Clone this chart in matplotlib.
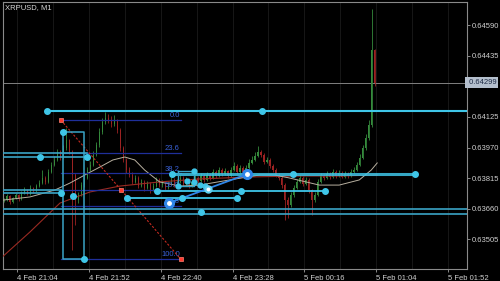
import matplotlib
matplotlib.use("Agg")
import matplotlib.pyplot as plt
import numpy as np

plt.rcParams['font.family'] = ['Liberation Sans', 'DejaVu Sans']

# time axis: minutes after 4 Feb 21:04, candles every 2 minutes
t0 = -9
step = 2
first_open = 700   # points above 0.63000
# closes / highs / lows in points (1e-5) above 0.63000
closes = [704, 725, 694, 715, 730, 710, 740, 755, 735, 765, 750, 775, 790, 816, 796, 846, 882, 907, 947, 917,
          968, 1008, 947, 831, 704, 730, 780, 816, 856, 882, 932, 983, 1049, 1099, 1119, 1109, 1089, 1104, 1059, 968,
          907, 856, 831, 796, 816, 775, 796, 765, 785, 755, 775, 806, 780, 790, 765, 785, 806, 775, 796, 816,
          785, 806, 775, 796, 816, 801, 826, 806, 831, 816, 846, 826, 856, 836, 851, 826, 856, 877, 846, 866,
          846, 866, 892, 907, 927, 947, 932, 897, 907, 877, 856, 831, 816, 780, 704, 679, 730, 765, 796, 816,
          785, 806, 755, 704, 730, 796, 826, 816, 836, 821, 846, 826, 841, 821, 836, 826, 846, 856, 882, 917,
          968, 1018, 1084, 1463, 1299]
highs = [716, 735, 730, 722, 742, 736, 752, 770, 762, 778, 772, 788, 806, 856, 825, 860, 898, 925, 962, 955,
         985, 1069, 1015, 955, 840, 745, 795, 830, 870, 900, 950, 1000, 1070, 1120, 1150, 1140, 1130, 1135, 1115, 1070,
         980, 915, 870, 845, 830, 825, 810, 805, 800, 795, 790, 820, 815, 805, 798, 800, 822, 815, 810, 832,
         825, 820, 815, 810, 830, 825, 842, 835, 848, 840, 862, 855, 872, 865, 866, 858, 874, 895, 885, 880,
         875, 882, 910, 925, 945, 978, 960, 940, 922, 915, 885, 865, 840, 825, 790, 720, 745, 780, 812, 832,
         825, 820, 815, 762, 745, 810, 842, 835, 850, 845, 860, 855, 856, 850, 850, 845, 860, 870, 898, 935,
         985, 1040, 1110, 1671, 1470]
lows = [692, 698, 684, 688, 710, 700, 705, 735, 728, 730, 742, 745, 770, 785, 788, 790, 840, 875, 900, 905,
        910, 960, 935, 452, 578, 690, 725, 770, 810, 850, 875, 925, 975, 1040, 1090, 1095, 1075, 1080, 1045, 950,
        895, 840, 820, 785, 790, 765, 770, 750, 760, 740, 748, 770, 770, 772, 755, 758, 780, 768, 770, 790,
        776, 780, 765, 770, 790, 792, 796, 798, 800, 808, 810, 818, 820, 828, 830, 818, 820, 850, 838, 840,
        838, 840, 860, 885, 900, 920, 920, 885, 890, 865, 845, 820, 805, 765, 603, 613, 670, 722, 760, 790,
        775, 778, 740, 629, 695, 725, 790, 808, 810, 812, 815, 818, 820, 814, 815, 818, 820, 840, 850, 875,
        910, 960, 1010, 1075, 1281]

# moving averages (time, points)
fast_t = [-9.3, 8.7, 25.3, 35.3, 45.3, 55.3, 64, 72, 78.7, 85.3, 95.3, 108.7, 122, 142, 162, 172, 182, 202, 215.3, 228.7, 236.7, 240.7]
fast_v = [704, 720, 755, 790, 831, 871, 907, 922, 907, 856, 796, 775, 780, 806, 831, 831, 816, 780, 780, 806, 856, 892]
slow_t = [-9.3, 8.7, 28.7, 48.7, 68.7, 95.3, 122, 155.3, 188.7, 215.3, 240.7]
slow_v = [420, 543, 689, 745, 775, 796, 811, 821, 826, 826, 831]

current_price = 0.64299
y_ticks = [0.63505, 0.63660, 0.63815, 0.63970, 0.64125, 0.64280, 0.64435, 0.64590]
x_ticks = [0, 48, 96, 144, 192, 240, 288]
x_labels = ['4 Feb 21:04', '4 Feb 21:52', '4 Feb 22:40', '4 Feb 23:28', '5 Feb 00:16', '5 Feb 01:04', '5 Feb 01:52']

# fibonacci retracement
fib_a = (29.3, 0.64109)
fib_b = (109.3, 0.63406)
fib_levels = [0.0, 23.6, 38.2, 50.0, 61.8, 100.0]

# drawn lines (prices, times)
ray_price = 0.64155
hlines_left = [0.63940, 0.63924]
hlines_left2 = [0.63755, 0.63740]
hlines_full = [0.63659, 0.63636]
segments = [(73.3, 146.7, 0.63715), (93.3, 206.0, 0.63750)]
main_seg = (103.3, 266.0, 0.63836)
rect = (30.5, 44.7, 0.63406, 0.64050)
trend = ((101.3, 0.63689), (154.0, 0.63836))

XMIN, XMAX = -9.36, 300.7
CYAN = '#3fc6e8'
CYAN2 = '#3aa4c6'

def px(v):
    return 0.63 + np.asarray(v) * 1e-5

fig = plt.figure(figsize=(5, 2.81), dpi=100, facecolor='black')
ax = fig.add_axes([3 / 500, 1 - 268.5 / 281, 464 / 500, 266.5 / 281], facecolor='black')
ax.set_xlim(XMIN, XMAX)
ax.set_ylim(0.633579, 0.647064)

# faint vertical grid
for g in range(0, 300, 24):
    ax.axvline(g, color='#1b1b1b', lw=0.6, zorder=0)

# candles
ts = t0 + step * np.arange(len(closes))
opens = [first_open] + closes[:-1]
for t, o, h, l, c in zip(ts, opens, highs, lows, closes):
    col = '#358a3c' if c >= o else '#9c2222'
    ax.vlines(t, px(l), px(h), color=col, lw=0.6, zorder=2)
    ax.bar(t, px(max(o, c)) - px(min(o, c)) + 1e-6, bottom=px(min(o, c)), width=0.8, color=col, lw=0, zorder=2)

ax.plot(slow_t, px(slow_v), color='#9a2a22', lw=0.8, zorder=3)
ax.plot(fast_t, px(fast_v), color='#b8b0a0', lw=0.7, zorder=3)

# current price line
ax.axhline(current_price, color='#808080', lw=0.7, zorder=1)

# fibonacci
fa_t, fa_p = fib_a
fb_t, fb_p = fib_b
for lv in fib_levels:
    p = fa_p - (fa_p - fb_p) * lv / 100
    ax.plot([fa_t, fb_t], [p, p], color='#1f2f9a', lw=0.9, zorder=3)
    ax.text(fb_t - 0.5, p + 0.00003, f'{lv:.1f}', color='#3a62d8', fontsize=5.5, ha='right', va='bottom', zorder=4)
ax.plot([fa_t, fb_t], [fa_p, fb_p], color='#c42a20', lw=0.8, ls=(0, (2, 1.5)), zorder=4)
for t, p in [fib_a, fib_b, ((fa_t + fb_t) / 2, (fa_p + fb_p) / 2)]:
    ax.plot(t, p, 's', color='#ff3b30', ms=3.2, mec='#ff8070', mew=0.5, zorder=6)

# rectangle
r0, r1, rb, rt = rect
ax.plot([r0, r1, r1, r0, r0], [rt, rt, rb, rb, rt], color=CYAN2, lw=1.1, zorder=4)
ax.plot([r0, r1], [rt, rb], 'o', color=CYAN, ms=4, zorder=6)

# horizontal lines
ax.plot([20.0, XMAX], [ray_price, ray_price], color=CYAN, lw=1.5, zorder=4)
ax.plot([20.0, 164.0], [ray_price, ray_price], 'o', color=CYAN, ms=4, lw=0, zorder=6)
for p in hlines_left:
    ax.plot([XMIN, 46.7], [p, p], color=CYAN2, lw=1.2, zorder=4)
ax.plot([15.3, 46.7], [hlines_left[1]] * 2, 'o', color=CYAN, ms=4, lw=0, zorder=6)
for p in hlines_left2:
    ax.plot([XMIN, 29.3], [p, p], color=CYAN2, lw=1.2, zorder=4)
ax.plot([29.3, 37.3], [hlines_left2[1], 0.63725], 'o', color=CYAN, ms=4, lw=0, zorder=6)
for p in hlines_full:
    ax.axhline(p, color=CYAN2, lw=1.2, zorder=4)
ax.plot(122.7, 0.63645, 'o', color=CYAN, ms=4, zorder=6)
for a, b, p in segments:
    ax.plot([a, b], [p, p], color=CYAN, lw=1.3, zorder=4)
    ax.plot([a, (a + b) / 2, b], [p, p, p], 'o', color=CYAN, ms=4, lw=0, zorder=6)
a, b, p = main_seg
ax.plot([a, b], [p, p], color=CYAN, lw=2.2, alpha=0.85, zorder=4)
ax.plot([a, (a + b) / 2, b], [p, p, p], 'o', color=CYAN, ms=4, lw=0, zorder=6)

# small box and points
ax.plot([107.5, 118.0, 118.0, 107.5, 107.5], [0.63850, 0.63850, 0.63775, 0.63775, 0.63850], color=CYAN2, lw=1.0, zorder=4)
ax.plot([113.3, 118.0, 122.0, 125.3, 107.5, 118.0], [0.63800, 0.63795, 0.63780, 0.63775, 0.63775, 0.63850], 'o',
        color=CYAN, ms=3.5, lw=0, zorder=6)

# blue trend line
(ta, pa), (tb, pb) = trend
ax.plot([ta, tb], [pa, pb], color='#2f86e8', lw=1.3, zorder=5)
ax.plot([ta, tb], [pa, pb], 'o', color='#2f86e8', ms=7, mec='#2f86e8', zorder=7)
ax.plot([ta, tb], [pa, pb], 'o', color='white', ms=2.5, lw=0, zorder=8)
ax.plot((ta + tb) / 2, (pa + pb) / 2, 'o', color='#5fd0f0', ms=5, zorder=7)
ax.plot((ta + tb) / 2, (pa + pb) / 2, 'o', color='white', ms=1.8, zorder=8)

# axes styling
for s in ax.spines.values():
    s.set_color('#8a8a8a')
    s.set_linewidth(0.8)
ax.set_xticks(x_ticks)
ax.set_xticklabels(x_labels, ha='left')
ax.set_yticks(y_ticks)
# the 0.64280 label sits under the current price box
ax.set_yticklabels(['' if v == 0.64280 else f'{v:.5f}' for v in y_ticks])
ax.yaxis.tick_right()
ax.tick_params(axis='both', colors='#8a8a8a', labelcolor='#d0d0d0', labelsize=5.5, length=2.5, width=0.7, pad=1)
ax.tick_params(axis='x', pad=2)

ax.text(1.0, current_price, ' 0.64299', transform=ax.get_yaxis_transform(), color='#1d2a44', fontsize=5.5,
        va='center', ha='left', zorder=10,
        bbox=dict(boxstyle='square,pad=0.2', facecolor='#b4bfcd', edgecolor='none'))

fig.text(5 / 500, 1 - 8 / 281, 'XRPUSD, M1', color='#d8d8d8', fontsize=5.5, va='center', ha='left')

fig.savefig('out.png', dpi=100, facecolor='black')
